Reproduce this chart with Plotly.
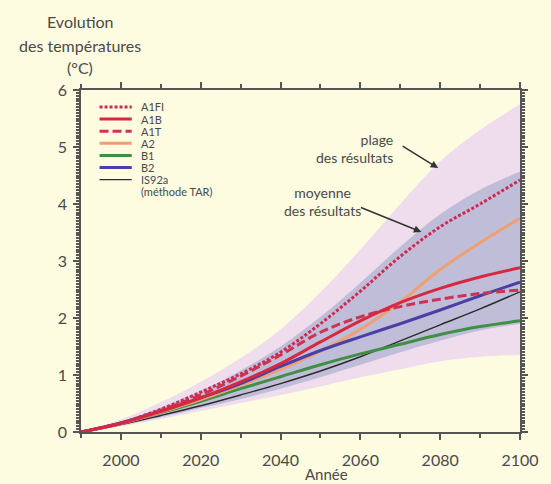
import plotly.graph_objects as go

# ---------------- data ----------------
years = [1990, 2000, 2010, 2020, 2030, 2040, 2050, 2060, 2070, 2080, 2090, 2100]

range_hi = [0, 0.22, 0.52, 0.88, 1.30, 1.80, 2.45, 3.20, 4.00, 4.75, 5.30, 5.75]
range_lo = [0, 0.10, 0.23, 0.37, 0.51, 0.65, 0.80, 0.96, 1.10, 1.24, 1.32, 1.35]
mean_hi = [0, 0.18, 0.43, 0.72, 1.08, 1.50, 2.02, 2.62, 3.25, 3.82, 4.25, 4.57]
mean_lo = [0, 0.12, 0.26, 0.42, 0.58, 0.76, 0.96, 1.18, 1.40, 1.60, 1.78, 1.90]

a1fi = [0, 0.16, 0.40, 0.70, 1.02, 1.40, 1.90, 2.47, 3.08, 3.60, 4.00, 4.42]
a1b = [0, 0.15, 0.36, 0.60, 0.88, 1.20, 1.58, 1.95, 2.27, 2.52, 2.72, 2.88]
a1t = [0, 0.16, 0.38, 0.65, 0.98, 1.35, 1.75, 2.02, 2.20, 2.33, 2.43, 2.49]
a2 = [0, 0.15, 0.35, 0.57, 0.82, 1.10, 1.42, 1.80, 2.28, 2.85, 3.32, 3.75]
b1 = [0, 0.15, 0.34, 0.54, 0.76, 0.97, 1.18, 1.37, 1.54, 1.71, 1.85, 1.95]
b2 = [0, 0.16, 0.37, 0.60, 0.85, 1.15, 1.43, 1.67, 1.90, 2.14, 2.39, 2.63]
is92a = [0, 0.13, 0.29, 0.46, 0.65, 0.85, 1.07, 1.32, 1.60, 1.88, 2.16, 2.46]

series_names = ["A1FI", "A1B", "A1T", "A2", "B1", "B2", "IS92a"]
series_values = [a1fi, a1b, a1t, a2, b1, b2, is92a]

x_ticks = [2000, 2020, 2040, 2060, 2080, 2100]
y_ticks = [0, 1, 2, 3, 4, 5, 6]

# ---------------- styles ----------------
BG = "#fdfbe0"
TXT = "#4a4a4a"
AX = "#555555"
FONT = "Lato"
styles = {
    "A1FI": dict(color="#d0284f", width=3, dash="3px,2px"),
    "A1B": dict(color="#d8283f", width=3, dash="solid"),
    "A1T": dict(color="#cc3355", width=3, dash="9px,4px"),
    "A2": dict(color="#f0a070", width=3, dash="solid"),
    "B1": dict(color="#3f8f45", width=3, dash="solid"),
    "B2": dict(color="#4a3fa6", width=3, dash="solid"),
    "IS92a": dict(color="#2e2a2a", width=1.4, dash="solid"),
}

# plot-area geometry (pixels)
L, T, W, H = 81, 90, 450, 342
FIG_W, FIG_H = 551, 484


def px(xp):
    return (xp - L) / W


def py(yp):
    return (T + H - yp) / H


fig = go.Figure()

# envelopes
fig.add_trace(go.Scatter(x=years, y=range_lo, mode="lines", line=dict(width=0, shape="spline"),
                         hoverinfo="skip", showlegend=False))
fig.add_trace(go.Scatter(x=years, y=range_hi, mode="lines", line=dict(width=0, shape="spline"),
                         fill="tonexty", fillcolor="#efdcec", hoverinfo="skip", showlegend=False))
fig.add_trace(go.Scatter(x=years, y=mean_lo, mode="lines", line=dict(width=0, shape="spline"),
                         hoverinfo="skip", showlegend=False))
fig.add_trace(go.Scatter(x=years, y=mean_hi, mode="lines", line=dict(width=0, shape="spline"),
                         fill="tonexty", fillcolor="#bfbdd8", hoverinfo="skip", showlegend=False))

draw_order = ["IS92a", "B1", "A2", "B2", "A1T", "A1B", "A1FI"]
for name in draw_order:
    vals = series_values[series_names.index(name)]
    st = styles[name]
    fig.add_trace(go.Scatter(x=years, y=vals, mode="lines", name=name, showlegend=False,
                             line=dict(color=st["color"], width=st["width"], dash=st["dash"],
                                       shape="spline")))

shapes = []
annotations = []

# custom compact legend
leg_y0, leg_dy = 107, 12.1
LEG_FONT = dict(family=FONT, size=11, color=TXT)
for i, name in enumerate(series_names):
    st = styles[name]
    yy = leg_y0 + i * leg_dy
    shapes.append(dict(type="line", xref="paper", yref="paper", x0=px(100), x1=px(133),
                       y0=py(yy), y1=py(yy),
                       line=dict(color=st["color"], width=st["width"], dash=st["dash"])))
    annotations.append(dict(xref="paper", yref="paper", x=px(141), y=py(yy), text=name,
                            showarrow=False, xanchor="left", yanchor="middle", borderpad=0,
                            font=LEG_FONT))
annotations.append(dict(xref="paper", yref="paper", x=px(141), y=py(leg_y0 + 7 * leg_dy),
                        text="(méthode TAR)", showarrow=False, xanchor="left", yanchor="middle",
                        borderpad=0, font=LEG_FONT))

# y-axis title (three lines)
for txt, yy in [("Evolution", 22), ("des températures", 45), ("(°C)", 68)]:
    annotations.append(dict(xref="paper", yref="paper", x=px(80), y=py(yy), text=txt,
                            showarrow=False, xanchor="center", yanchor="middle",
                            font=dict(family=FONT, size=16, color=TXT)))

# x-axis title
annotations.append(dict(xref="paper", yref="paper", x=px(333), y=py(474), text="Année",
                        showarrow=False, xanchor="center", yanchor="middle", borderpad=0,
                        font=dict(family=FONT, size=15, color=TXT)))

# labelled arrows
annotations.append(dict(x=2068.7, y=4.98, text="plage<br>des résultats", showarrow=False,
                        xanchor="right", yanchor="middle", align="right",
                        font=dict(family=FONT, size=14, color=TXT)))
annotations.append(dict(x=2079.5, y=4.63, text="", showarrow=True, ax=-37, ay=-23,
                        arrowhead=2, arrowsize=1, arrowwidth=1.5, arrowcolor="#333333"))
annotations.append(dict(x=2050.4, y=4.04, text="moyenne<br>des résultats", showarrow=False,
                        xanchor="center", yanchor="middle", align="center",
                        font=dict(family=FONT, size=14, color=TXT)))
annotations.append(dict(x=2075.3, y=3.51, text="", showarrow=True, ax=-62, ay=-25,
                        arrowhead=2, arrowsize=1, arrowwidth=1.5, arrowcolor="#333333"))

fig.update_layout(
    width=FIG_W, height=FIG_H,
    margin=dict(l=L, r=FIG_W - L - W, t=T, b=FIG_H - T - H),
    paper_bgcolor=BG, plot_bgcolor=BG,
    font=dict(family=FONT, color=TXT),
    shapes=shapes, annotations=annotations,
    showlegend=False,
)
fig.update_xaxes(range=[1990, 2100], tickvals=x_ticks, ticks="outside", ticklen=6, tickwidth=1.5,
                 tickcolor=AX, showline=True, linecolor=AX, linewidth=1.5, mirror="ticks",
                 showgrid=False, zeroline=False, tickfont=dict(family=FONT, size=16, color=TXT),
                 ticklabelstandoff=7,
                 minor=dict(dtick=10, tick0=1990, ticks="outside", ticklen=4, tickcolor=AX))
fig.update_yaxes(range=[0, 6], tickvals=y_ticks, ticks="outside", ticklen=6, tickwidth=1.5,
                 tickcolor=AX, showline=True, linecolor=AX, linewidth=1.5, mirror="ticks",
                 showgrid=False, zeroline=False, tickfont=dict(family=FONT, size=16, color=TXT),
                 ticklabelstandoff=3,
                 minor=dict(dtick=0.05, ticks="outside", ticklen=3, tickcolor=AX))

fig.write_html(
    "out.html",
    config={"displayModeBar": False},
    post_script="document.body.style.margin='0px';document.body.style.background='" + BG + "';",
)
